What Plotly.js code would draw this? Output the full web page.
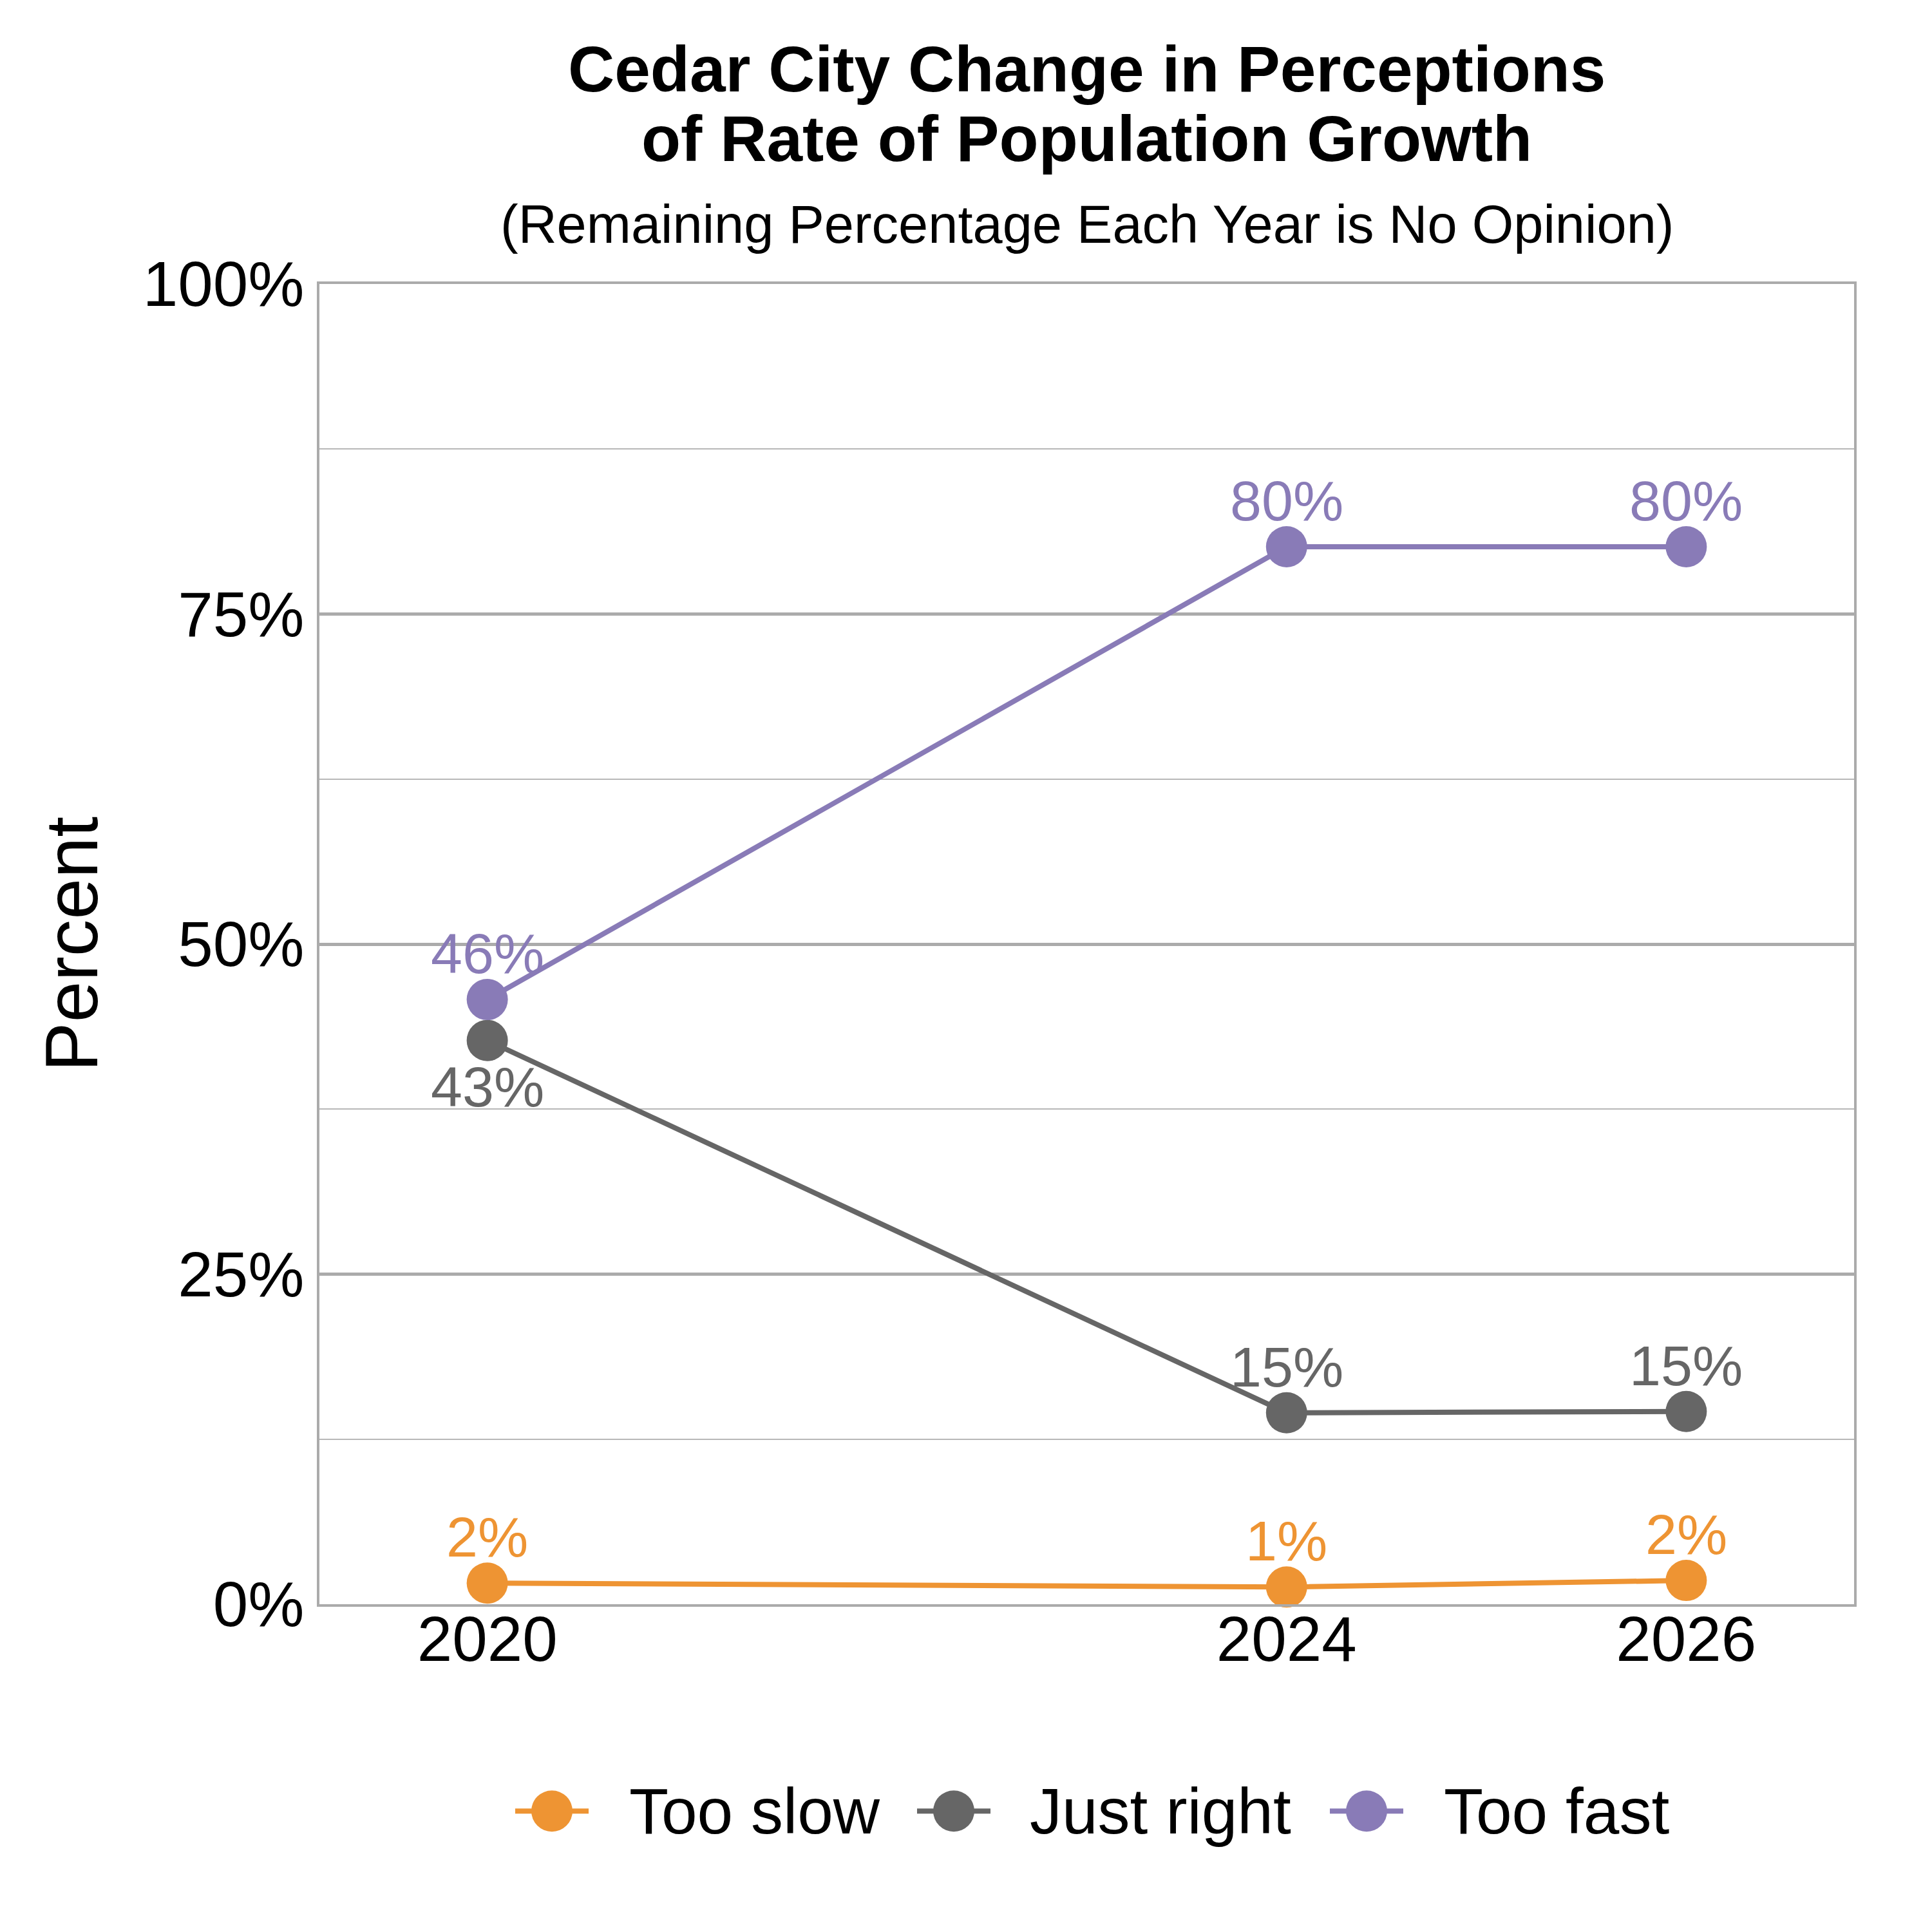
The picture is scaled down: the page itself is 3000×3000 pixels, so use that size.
<!DOCTYPE html>
<html>
<head>
<meta charset="utf-8">
<script src="https://cdn.plot.ly/plotly-3.0.1.min.js"></script>
<style>
  html, body { margin: 0; padding: 0; background: #ffffff; }
  #chart { width: 3000px; height: 3000px; }
</style>
</head>
<body>
<div id="chart"></div>
<script>
// ---- data ----
const years = [2020, 2024, 2026];
const seriesNames = ['Too slow', 'Just right', 'Too fast'];
const tooSlow = [1.6, 1.3, 1.8];
const justRight = [42.7, 14.5, 14.6];
const tooFast = [45.8, 80.1, 80.1];
const yTickVals = [0, 25, 50, 75, 100];
const titleLine1 = 'Cedar City Change in Perceptions';
const titleLine2 = 'of Rate of Population Growth';
const subtitleText = '(Remaining Percentage Each Year is No Opinion)';
const yTitle = 'Percent';

// ---- styles ----
const seriesValues = [tooSlow, justRight, tooFast];
const seriesColors = ['#EE9433', '#666666', '#897BB7'];
// label placement per point: 1 = above, -1 = below
const labelSide = [[1, 1, 1], [-1, 1, 1], [1, 1, 1]];
const FONT = 'Liberation Sans, Arial, Helvetica, sans-serif';
const GRID = '#ABABAB';

const traces = seriesNames.map((name, i) => ({
  type: 'scatter',
  mode: 'lines+markers',
  name: name,
  x: years,
  y: seriesValues[i],
  line: { color: seriesColors[i], width: 8 },
  marker: { color: seriesColors[i], size: 64, line: { width: 0 } },
  cliponaxis: false,
  hoverinfo: 'skip'
}));

const annotations = [];
// data labels
seriesNames.forEach((name, i) => {
  seriesValues[i].forEach((v, j) => {
    const side = labelSide[i][j];
    annotations.push({
      xref: 'x', yref: 'y', x: years[j], y: v,
      text: Math.round(v) + '%',
      showarrow: false,
      xanchor: 'center',
      yanchor: side > 0 ? 'bottom' : 'top',
      yshift: side > 0 ? 20 : -20,
      font: { family: FONT, size: 88, color: seriesColors[i] }
    });
  });
});
// title lines
annotations.push({
  xref: 'paper', yref: 'paper', x: 0.5, y: 1.16273, xanchor: 'center', yanchor: 'middle',
  text: '<b>' + titleLine1 + '</b>', showarrow: false,
  font: { family: FONT, size: 100, color: '#000000' }
});
annotations.push({
  xref: 'paper', yref: 'paper', x: 0.5, y: 1.11005, xanchor: 'center', yanchor: 'middle',
  text: '<b>' + titleLine2 + '</b>', showarrow: false,
  font: { family: FONT, size: 100, color: '#000000' }
});
annotations.push({
  xref: 'paper', yref: 'paper', x: 0.5, y: 1.04527, xanchor: 'center', yanchor: 'middle',
  text: subtitleText, showarrow: false,
  font: { family: FONT, size: 83, color: '#000000' }
});

// custom legend (large symbols like the reference)
const legendY = -0.1567;
const legendMarkerX = [0.15149, 0.41335, 0.68233];
const legendTextX = [0.20101, 0.46202, 0.73185];
const shapes = [];
seriesNames.forEach((name, i) => {
  shapes.push({
    type: 'line', xref: 'paper', yref: 'paper',
    xsizemode: 'pixel', ysizemode: 'pixel',
    xanchor: legendMarkerX[i], yanchor: legendY,
    x0: -57, x1: 57, y0: 0, y1: 0,
    line: { color: seriesColors[i], width: 8 }
  });
  shapes.push({
    type: 'circle', xref: 'paper', yref: 'paper',
    xsizemode: 'pixel', ysizemode: 'pixel',
    xanchor: legendMarkerX[i], yanchor: legendY,
    x0: -32, x1: 32, y0: -32, y1: 32,
    fillcolor: seriesColors[i], line: { width: 0 }
  });
  annotations.push({
    xref: 'paper', yref: 'paper', x: legendTextX[i], y: legendY,
    xanchor: 'left', yanchor: 'middle', text: name, showarrow: false,
    font: { family: FONT, size: 100, color: '#000000' }
  });
});

const layout = {
  width: 3000,
  height: 3000,
  margin: { l: 496, r: 121, t: 441, b: 509, pad: 0 },
  paper_bgcolor: '#ffffff',
  plot_bgcolor: '#ffffff',
  showlegend: false,
  font: { family: FONT, color: '#000000' },
  xaxis: {
    range: [2019.16, 2026.84],
    tickmode: 'array',
    tickvals: years,
    ticktext: years.map(String),
    ticks: '',
    ticklabelstandoff: -34,
    showgrid: false,
    zeroline: false,
    showline: true,
    mirror: true,
    linecolor: GRID,
    linewidth: 4,
    tickfont: { family: FONT, size: 98, color: '#000000' },
    automargin: false
  },
  yaxis: {
    range: [0, 100],
    tickmode: 'array',
    tickvals: yTickVals,
    ticktext: yTickVals.map(v => v + '%'),
    ticks: '',
    showgrid: true,
    gridcolor: GRID,
    gridwidth: 5,
    zeroline: false,
    showline: true,
    mirror: true,
    linecolor: GRID,
    linewidth: 4,
    minor: { dtick: 12.5, tick0: 0, showgrid: true, gridcolor: '#B8B8B8', gridwidth: 2, ticks: '' },
    tickfont: { family: FONT, size: 98, color: '#000000' },
    title: { text: yTitle, font: { family: FONT, size: 115, color: '#000000' }, standoff: 32 },
    automargin: false
  },
  annotations: annotations,
  shapes: shapes
};

Plotly.newPlot('chart', traces, layout, { displayModeBar: false, responsive: false });
</script>
</body>
</html>
